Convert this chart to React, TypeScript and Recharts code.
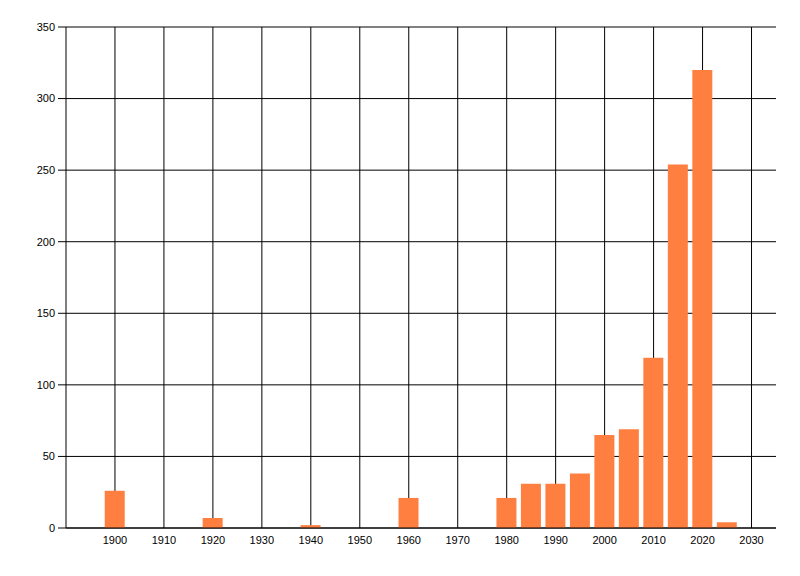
import { BarChart, Bar, XAxis, YAxis, CartesianGrid } from "recharts";

const years = [1900, 1920, 1940, 1960, 1980, 1985, 1990, 1995, 2000, 2005, 2010, 2015, 2020, 2025];
const counts = [26, 7, 2, 21, 21, 31, 31, 38, 65, 69, 119, 254, 320, 4];

const xTicks = [1900, 1910, 1920, 1930, 1940, 1950, 1960, 1970, 1980, 1990, 2000, 2010, 2020, 2030];
const yTicks = [0, 50, 100, 150, 200, 250, 300, 350];

const BAR_COLOR = "#FF7F41";

const data = years.map((year, i) => ({ year, count: counts[i] }));

const tickStyle = { fontSize: 11, fill: "#000", fontFamily: "Liberation Sans, Arial, sans-serif" };

// vertical grid lines only at the labelled years (no border on the right edge)
const verticalLines = ({ xAxis }: any) => {
  const scale = xAxis && xAxis.scale;
  if (!scale) return [];
  const fn = typeof scale === "function" ? scale : scale.map ? (v: number) => scale.map(v) : null;
  if (!fn) return [];
  return xTicks.map((t) => fn(t));
};

export default function App() {
  return (
    <div style={{ position: "absolute", left: 0, top: 0, width: 800, height: 576, background: "#fff" }}>
      <BarChart
        width={800}
        height={576}
        data={data}
        margin={{ top: 27, right: 24, bottom: 18, left: 0 }}
      >
        <CartesianGrid stroke="#000" strokeWidth={1} verticalCoordinatesGenerator={verticalLines} />
        <XAxis
          dataKey="year"
          type="number"
          domain={[1890, 2035]}
          ticks={xTicks}
          allowDataOverflow
          tickLine={false}
          axisLine={{ stroke: "#000" }}
          tick={tickStyle}
          interval={0}
        />
        <YAxis
          type="number"
          domain={[0, 350]}
          ticks={yTicks}
          width={66}
          tickSize={8}
          tickMargin={3}
          tickLine={{ stroke: "#000" }}
          axisLine={{ stroke: "#000" }}
          tick={tickStyle}
          interval={0}
        />
        <Bar dataKey="count" fill={BAR_COLOR} barSize={20} isAnimationActive={false} />
      </BarChart>
    </div>
  );
}
